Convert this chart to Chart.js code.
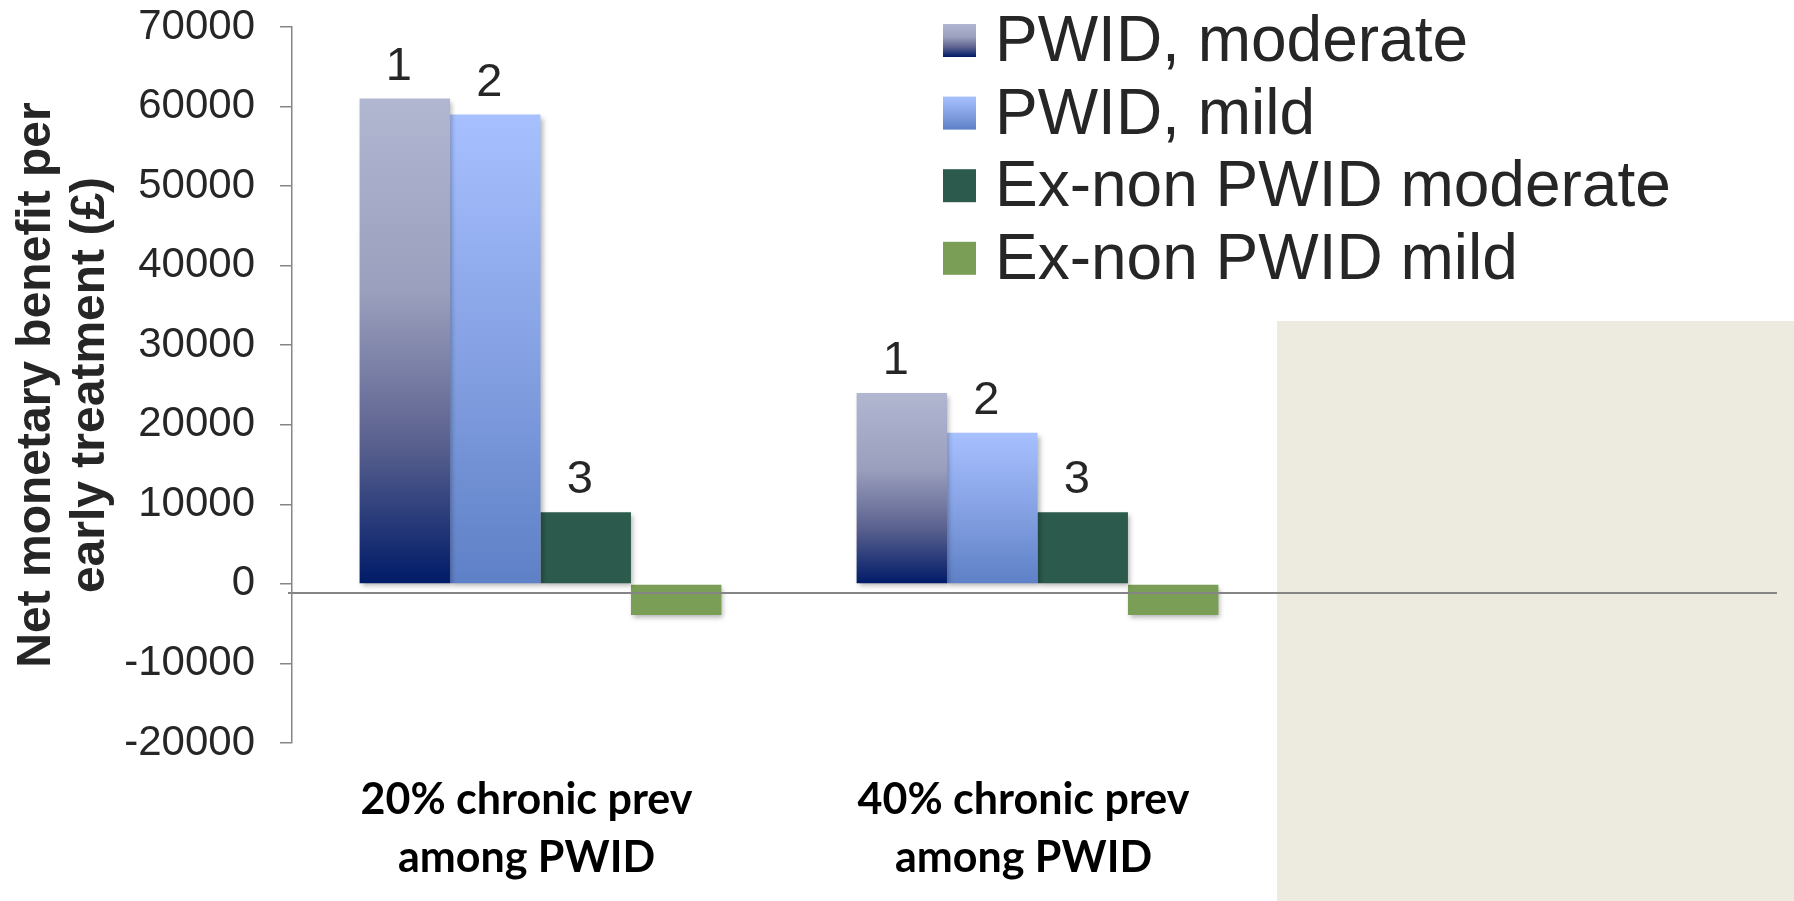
<!DOCTYPE html>
<html lang="en">
  <head>
    <meta charset="UTF-8" />
    <title>Net monetary benefit per early treatment</title>
    <script src="https://cdn.jsdelivr.net/npm/chart.js@4.4.1/dist/chart.umd.min.js"></script>
    <style>
      body { margin: 0; background: #fff; }
      canvas { display: block; }
    </style>
  </head>
  <body>
    <canvas id="myChart" width="1794" height="901"></canvas>
    <script>
      // values
      const categories = [
        ["20% chronic prev", "among PWID"],
        ["40% chronic prev", "among PWID"],
        "",
      ]
      const seriesNames = ["PWID, moderate", "PWID, mild", "Ex-non PWID moderate", "Ex-non PWID mild"]
      const pwidModerate = [61000, 24000, null]
      const pwidMild = [59000, 19000, null]
      const exNonModerate = [9000, 9000, null]
      const exNonMild = [-3900, -3900, null]
      const barTags = ["1", "2", "3", ""]
      const yMin = -20000
      const yMax = 70000
      const yStep = 10000

      const fills = [
        [[0, "#b1b6d1"], [0.4, "#9a9fbd"], [0.7, "#5d6390"], [1, "#001b68"]],
        [[0, "#a7c0ff"], [0.5, "#86a2e4"], [1, "#5e80c6"]],
        [[0, "#2c5b4d"], [1, "#2c5b4d"]],
        [[0, "#7a9e55"], [1, "#7a9e55"]],
      ]

      function gradientFill(stops) {
        return (c) => {
          const chart = c.chart
          if (!chart.chartArea || c.type !== "data" || c.raw == null) return stops[stops.length - 1][1]
          const y = chart.scales.y
          const top = y.getPixelForValue(Math.max(c.raw, 0))
          const bottom = y.getPixelForValue(Math.min(c.raw, 0))
          const g = chart.ctx.createLinearGradient(0, top, 0, bottom)
          stops.forEach(([o, col]) => g.addColorStop(o, col))
          return g
        }
      }

      const extras = {
        id: "extras",
        beforeDraw(chart) {
          // beige panel covering the right part of the slide
          const ctx = chart.ctx
          ctx.save()
          ctx.fillStyle = "#edeadf"
          ctx.fillRect(1277, 321, chart.width - 1277, chart.height - 321)
          ctx.restore()
        },
        beforeDatasetsDraw(chart) {
          const ctx = chart.ctx
          ctx.save()
          ctx.shadowColor = "rgba(0,0,0,0.3)"
          ctx.shadowBlur = 5
          ctx.shadowOffsetX = 2
          ctx.shadowOffsetY = 3
        },
        afterDatasetsDraw(chart) {
          const ctx = chart.ctx
          ctx.restore()
          const { left, right } = chart.chartArea
          const y0 = chart.scales.y.getPixelForValue(0) + 9

          // horizontal axis line (sits a little under zero)
          ctx.save()
          ctx.strokeStyle = "#858585"
          ctx.lineWidth = 2
          ctx.beginPath()
          ctx.moveTo(left - 4, y0)
          ctx.lineTo(right - 6, y0)
          ctx.stroke()

          // 1 / 2 / 3 tags above the bars
          ctx.fillStyle = "#262626"
          ctx.font = "47px 'Liberation Sans', Arial, sans-serif"
          ctx.textAlign = "center"
          ctx.textBaseline = "alphabetic"
          chart.data.datasets.forEach((ds, i) => {
            if (!barTags[i]) return
            chart.getDatasetMeta(i).data.forEach((bar, j) => {
              if (ds.data[j] == null) return
              ctx.fillText(barTags[i], bar.x - 6, bar.y - 19)
            })
          })

          // legend
          ctx.font = "64px 'Liberation Sans', Arial, sans-serif"
          ctx.textAlign = "left"
          ctx.textBaseline = "alphabetic"
          seriesNames.forEach((name, i) => {
            const cy = 40.5 + i * 72.6
            const g = ctx.createLinearGradient(0, cy - 16.5, 0, cy + 16.5)
            fills[i].forEach(([o, col]) => g.addColorStop(o, col))
            ctx.fillStyle = g
            ctx.fillRect(943, cy - 16.5, 33, 33)
            ctx.fillStyle = "#262626"
            ctx.fillText(name, 995, cy + 20.5)
          })
          ctx.restore()
        },
      }

      const ctx = document.getElementById("myChart").getContext("2d")
      const myChart = new Chart(ctx, {
        type: "bar",
        data: {
          labels: categories,
          datasets: [pwidModerate, pwidMild, exNonModerate, exNonMild].map((d, i) => ({
            label: seriesNames[i],
            data: d,
            backgroundColor: gradientFill(fills[i]),
            borderWidth: 0,
            categoryPercentage: 0.728,
            barPercentage: 1,
          })),
        },
        options: {
          responsive: false,
          animation: false,
          devicePixelRatio: 1,
          layout: { padding: { top: 27, right: 11, left: 0, bottom: 0 } },
          plugins: {
            legend: { display: false },
            tooltip: { enabled: false },
          },
          scales: {
            x: {
              grid: { display: false, drawTicks: false },
              border: { display: false },
              ticks: {
                color: "#000",
                padding: 28,
                labelOffset: -14,
                maxRotation: 0,
                autoSkip: false,
                font: { family: "Lato, 'Open Sans', sans-serif", size: 43, weight: "bold", lineHeight: 1.35 },
              },
              afterFit(scale) {
                scale.height = 158
              },
            },
            y: {
              min: yMin,
              max: yMax,
              ticks: {
                stepSize: yStep,
                color: "#262626",
                padding: 25,
                font: { family: "'Liberation Sans', Arial, sans-serif", size: 42 },
                callback: (v) => String(v),
              },
              grid: { drawOnChartArea: false, drawTicks: true, tickLength: 12, color: "#868686", lineWidth: 1.5 },
              border: { color: "#868686", width: 1.5 },
              title: {
                display: true,
                text: ["Net monetary benefit per", "early treatment (£)"],
                color: "#262626",
                padding: { top: 10, bottom: 0 },
                font: { family: "'Liberation Sans', Arial, sans-serif", size: 48, weight: "bold", lineHeight: 1.12 },
              },
              afterFit(scale) {
                scale.width = 292
                // keep the tick padding from pushing the plot down
                scale.paddingTop = 0
                scale.paddingBottom = 0
              },
            },
          },
        },
        plugins: [extras],
      })
    </script>
  </body>
</html>
